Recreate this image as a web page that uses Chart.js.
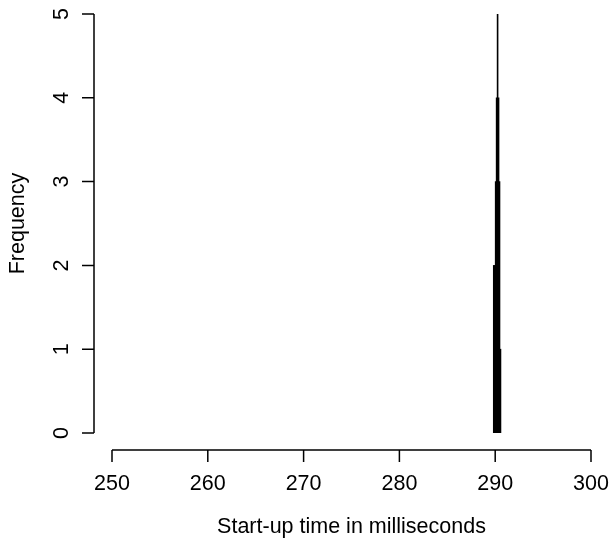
<!DOCTYPE html>
<html>
<head>
<meta charset="utf-8">
<script src="https://cdn.jsdelivr.net/npm/chart.js@4"></script>
<style>
  html, body { margin: 0; padding: 0; background: #fff; }
  #wrap { width: 613px; height: 540px; }
</style>
</head>
<body>
<div id="wrap"><canvas id="myChart" width="613" height="540"></canvas></div>
<script>
// histogram bins (0.1 ms wide), left edges and counts
var binStarts = [289.8, 289.9, 290.0, 290.1, 290.2, 290.3, 290.4, 290.5];
var binCounts = [2, 2, 3, 4, 5, 4, 3, 1];
var binWidth = 0.1;
var xTicks = [250, 260, 270, 280, 290, 300];
var yTicks = [0, 1, 2, 3, 4, 5];
var xTitle = "Start-up time in milliseconds";
var yTitle = "Frequency";

var points = binStarts.map(function (s, i) {
  return { x: s + binWidth / 2, y: binCounts[i] };
});

// R style detached axes
var rAxes = {
  id: "rAxes",
  afterDraw: function (chart) {
    var c = chart.ctx;
    var xs = chart.scales.x, ys = chart.scales.y;
    c.save();
    c.strokeStyle = "#000";
    c.fillStyle = "#000";
    c.lineWidth = 1.5;
    c.font = "21.5px 'Liberation Sans', Arial, sans-serif";

    // x axis
    var ay = 450;
    c.beginPath();
    c.moveTo(xs.getPixelForValue(xTicks[0]), ay);
    c.lineTo(xs.getPixelForValue(xTicks[xTicks.length - 1]), ay);
    xTicks.forEach(function (t) {
      var px = xs.getPixelForValue(t);
      c.moveTo(px, ay);
      c.lineTo(px, ay + 12);
    });
    c.stroke();
    c.textAlign = "center";
    c.textBaseline = "middle";
    xTicks.forEach(function (t) {
      c.fillText(String(t), xs.getPixelForValue(t), 484);
    });
    c.fillText(xTitle, (xs.getPixelForValue(250) + xs.getPixelForValue(300)) / 2, 527);

    // y axis
    var ax = 94;
    c.beginPath();
    c.moveTo(ax, ys.getPixelForValue(yTicks[0]));
    c.lineTo(ax, ys.getPixelForValue(yTicks[yTicks.length - 1]));
    yTicks.forEach(function (t) {
      var py = ys.getPixelForValue(t);
      c.moveTo(ax, py);
      c.lineTo(ax - 12, py);
    });
    c.stroke();
    yTicks.forEach(function (t) {
      c.save();
      c.translate(62, ys.getPixelForValue(t));
      c.rotate(-Math.PI / 2);
      c.fillText(String(t), 0, 0);
      c.restore();
    });
    c.save();
    c.translate(18, (ys.getPixelForValue(0) + ys.getPixelForValue(5)) / 2);
    c.rotate(-Math.PI / 2);
    c.fillText(yTitle, 0, 0);
    c.restore();
    c.restore();
  }
};

var ctx = document.getElementById("myChart");
var chart = new Chart(ctx, {
  type: "bar",
  data: {
    datasets: [
      {
        data: points,
        backgroundColor: "#000",
        borderColor: "#000",
        borderWidth: 0,
        barPercentage: 1,
        categoryPercentage: 1
      }
    ]
  },
  options: {
    responsive: false,
    animation: false,
    layout: { padding: { left: 112, right: 22, top: 14, bottom: 107 } },
    plugins: { legend: { display: false }, tooltip: { enabled: false } },
    scales: {
      x: { type: "linear", min: 250, max: 300, display: false, offset: false },
      y: { min: 0, max: 5, display: false }
    }
  },
  plugins: [rAxes]
});
</script>
</body>
</html>
